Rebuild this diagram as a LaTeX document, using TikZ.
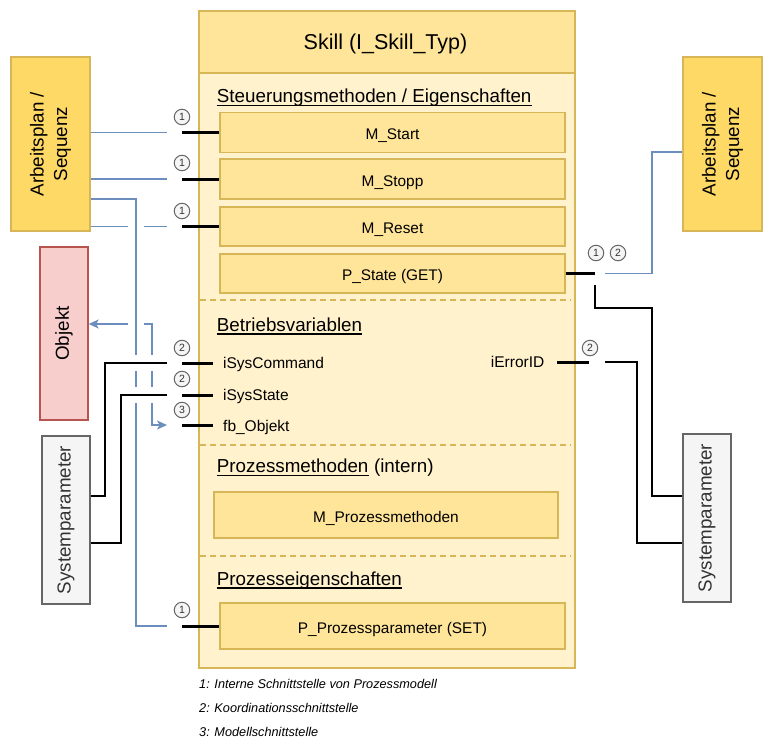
\documentclass[tikz,border=0pt]{standalone}
\usepackage{fontspec}
\setmainfont{Liberation Sans}
\usetikzlibrary{arrows.meta,calc}
\definecolor{yel}{HTML}{FFE599}
\definecolor{yelbody}{HTML}{FFF2CC}
\definecolor{yelstroke}{HTML}{D6B656}
\definecolor{gold}{HTML}{FFD966}
\definecolor{redfill}{HTML}{F8CECC}
\definecolor{redstroke}{HTML}{B85450}
\definecolor{grayfill}{HTML}{F5F5F5}
\definecolor{graystroke}{HTML}{666666}
\definecolor{graytext}{HTML}{333333}
\definecolor{blueline}{HTML}{6C8EBF}
\begin{document}
\begin{tikzpicture}[x=1bp,y=-1bp,
  itembox/.style={draw=yelstroke, fill=yel, line width=1.3bp, inner sep=0, minimum width=345bp,
    text height=14.6bp, text depth=0bp,
    font=\fontsize{15.4bp}{18bp}\selectfont},
  sidebox/.style={line width=1.3bp, inner sep=0},
  sidetext/.style={rotate=90, align=center, inner sep=0, font=\fontsize{18.8bp}{23.5bp}\selectfont},
  sechead/.style={anchor=base west, inner sep=0, font=\fontsize{18.8bp}{22bp}\selectfont},
  varlbl/.style={inner sep=0, font=\fontsize{15.5bp}{18bp}\selectfont},
  numc/.style={circle, draw=graystroke, fill=grayfill, line width=1bp, minimum size=15.5bp, inner sep=0,
    text=graytext, font=\fontsize{10.5bp}{11bp}\selectfont},
  stubline/.style={line width=3bp, black},
  blueln/.style={line width=1.2bp, blueline},
  blackln/.style={line width=1.3bp, black},
  sepline/.style={line width=1.2bp, yelstroke, dash pattern=on 6bp off 4bp},
  footn/.style={anchor=base west, inner sep=0, font=\fontsize{12.7bp}{15bp}\selectfont\itshape},
  tip/.style={-{Stealth[length=10bp,width=9bp,inset=2.5bp]}}
]
\useasboundingbox (0,0) rectangle (771,742);

% main skill box
\node[draw=yelstroke, fill=yelbody, line width=1.5bp, minimum width=376bp, minimum height=657bp, inner sep=0] (skill) at (387,339.5) {};
\node[draw=yelstroke, fill=yel, line width=1.5bp, minimum width=376bp, minimum height=62bp, inner sep=0, anchor=north] (hdr) at (skill.north) {};
\node[anchor=base, inner sep=0, font=\fontsize{21.5bp}{25bp}\selectfont] (title) at (385.5,50) {Skill (I\_Skill\_Typ)};

% separators
\coordinate (sep1) at (200,300);
\coordinate (sep2) at (200,445);
\coordinate (sep3) at (200,556);
\draw[sepline] (sep1) -- ++(371,0);
\draw[sepline] (sep2) -- ++(371,0);
\draw[sepline] (sep3) -- ++(371,0);

% section headings
\node[sechead] (sec1) at (216.7,102.5) {Steuerungsmethoden / Eigenschaften};
\node[sechead] (sec2) at (216.7,331) {Betriebsvariablen};
\node[sechead] (sec3) at (216.7,472.3) {Prozessmethoden};
\node[sechead, xshift=5.2bp] (sec3b) at (sec3.base east) {(intern)};
\node[sechead] (sec4) at (216.7,585) {Prozesseigenschaften};
\foreach \s in {sec1,sec2,sec3,sec4}
  \draw[line width=1.4bp] ([yshift=-3bp]\s.base west) -- ([yshift=-3bp]\s.base east);

% items
\node[itembox, minimum height=40bp] (start) at (392.5,132.5) {M\_Start};
\node[itembox, minimum height=40bp] (stopp) at (392.5,179) {M\_Stopp};
\node[itembox, minimum height=39bp] (reset) at (392.5,226.5) {M\_Reset};
\node[itembox, minimum height=39bp] (state) at (392.5,273.5) {P\_State (GET)};
\node[itembox, minimum width=344bp, minimum height=46bp] (proz) at (386,515) {M\_Prozessmethoden};
\node[itembox, minimum height=46bp] (param) at (392.5,626) {P\_Prozessparameter (SET)};

% variables
\node[varlbl, anchor=base west] (vCmd) at (223,368.5) {iSysCommand};
\node[varlbl, anchor=base west] (vState) at (223,400) {iSysState};
\node[varlbl, anchor=base west] (vObj) at (223,431) {fb\_Objekt};
\node[varlbl, anchor=base east] (vErr) at (544.5,367) {iErrorID};

% side boxes
\node[sidebox, draw=yelstroke, fill=gold, minimum width=79bp, minimum height=174bp] (AL) at (50.5,144) {};
\node[sidetext] (ALt) at (AL.center) {Arbeitsplan /\\Sequenz};
\node[sidebox, draw=redstroke, fill=redfill, minimum width=48bp, minimum height=173bp] (Obj) at (64,333.5) {};
\node[sidetext] (Objt) at (Obj.center) {Objekt};
\node[sidebox, draw=graystroke, fill=grayfill, minimum width=48bp, minimum height=168bp] (SL) at (66,520) {};
\node[sidetext, text=graytext] (SLt) at (SL.center) {Systemparameter};
\node[sidebox, draw=yelstroke, fill=gold, minimum width=79bp, minimum height=174bp] (AR) at (722.5,144) {};
\node[sidetext] (ARt) at (AR.center) {Arbeitsplan /\\Sequenz};
\node[sidebox, draw=graystroke, fill=grayfill, minimum width=48bp, minimum height=168bp] (SR) at (707,518) {};
\node[sidetext, text=graytext] (SRt) at (SR.center) {Systemparameter};

% stub coordinates
\coordinate (pStart) at (182,132.5);
\coordinate (pStopp) at (182,179);
\coordinate (pReset) at (182,226.5);
\coordinate (pCmd) at (182,363);
\coordinate (pState) at (182,395);
\coordinate (pObj) at (182,425);
\coordinate (pParam) at (182,626);
\coordinate (pGet) at (595,273.5);
\coordinate (pErr) at (557,362);

% thick stubs
\draw[stubline] (pStart) -- (start.west);
\draw[stubline] (pStopp) -- (stopp.west);
\draw[stubline] (pReset) -- (reset.west);
\draw[stubline] (pParam) -- (param.west);
\draw[stubline] (pCmd) -- ++(31,0);
\draw[stubline] (pState) -- ++(31,0);
\draw[stubline] (pObj) -- ++(31,0);
\draw[stubline] (state.east) -- (pGet);
\draw[stubline] (pErr) -- ++(32,0);

% number circles
\node[numc] (n1) at (182,117) {1};
\node[numc] (n2) at (182,163) {1};
\node[numc] (n3) at (182,211) {1};
\node[numc] (n4) at (182,348) {2};
\node[numc] (n5) at (182,379) {2};
\node[numc] (n6) at (182,410) {3};
\node[numc] (n7) at (182,610) {1};
\node[numc] (n8) at (596,253) {1};
\node[numc] (n9) at (618,253) {2};
\node[numc] (n10) at (590,348) {2};

% left blue connectors
\draw[blueln] (AL.east |- pStart) -- ([xshift=-15bp]pStart);
\draw[blueln] (AL.east |- pStopp) -- ([xshift=-15bp]pStopp);
\draw[blueln] (AL.east |- pReset) -- (128,226.5);
\draw[blueln] (144,226.5) -- ([xshift=-15bp]pReset);
\draw[blueln] (AL.east |- 0,199) -- (136,199) -- (136,355);
\draw[blueln] (136,371) -- (136,387);
\draw[blueln] (136,403) -- (136,626) -- ([xshift=-15bp]pParam);
% Objekt connector (both directions)
\draw[blueln, tip] (128,324) -- (Obj.east |- 0,324);
\draw[blueln] (144,324) -- (152,324) -- (152,355);
\draw[blueln] (152,371) -- (152,387);
\draw[blueln, tip] (152,403) -- (152,425) -- ([xshift=-15bp]pObj);

% left black connectors
\draw[blackln] (SL.east |- 0,496) -- (105,496) -- (105,363) -- ([xshift=-15bp]pCmd);
\draw[blackln] (SL.east |- 0,543) -- (121,543) -- (121,395) -- ([xshift=-15bp]pState);

% right connectors
\draw[blueln] ([xshift=10bp]pGet) -- (652,273.5) -- (652,152) -- (AR.west |- 0,152);
\draw[blackln] (595,285) -- (595,308) -- (652,308) -- (652,496) -- (SR.west |- 0,496);
\draw[blackln] (605,362) -- (637,362) -- (637,543) -- (SR.west |- 0,543);

% footnotes
\node[footn] (f1) at (199,688) {1: Interne Schnittstelle von Prozessmodell};
\node[footn] (f2) at (199,712) {2: Koordinationsschnittstelle};
\node[footn] (f3) at (199,736) {3: Modellschnittstelle};
\end{tikzpicture}
\end{document}
